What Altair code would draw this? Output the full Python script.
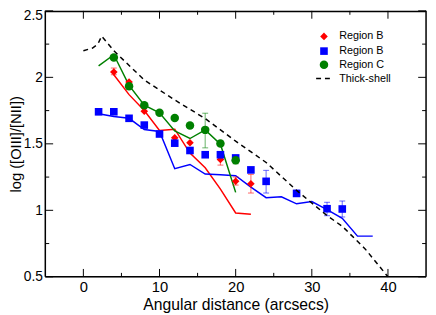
import altair as alt
import pandas as pd

# ---- data ----
red_x = [4, 6, 8, 12, 14, 18, 20, 22]
red_y = [2.04, 1.965, 1.746, 1.545, 1.508, 1.382, 1.219, 1.20]

red_line_x = [4, 6, 8, 10, 12, 14, 16, 18, 20, 22]
red_line_y = [2.02, 1.87, 1.75, 1.60, 1.61, 1.43, 1.32, 1.16, 0.98, 0.97]

blue_x = [2, 4, 6, 8, 10, 12, 14, 16, 18, 20, 22, 24, 28, 32, 34]
blue_y = [1.741, 1.741, 1.692, 1.641, 1.574, 1.505, 1.45, 1.418, 1.418, 1.394,
          1.304, 1.218, 1.127, 1.012, 1.01]

blue_line_x = [2, 4, 6, 8, 10, 12, 14, 16, 18, 20, 22, 24, 26, 28, 30, 32, 34, 36, 38]
blue_line_y = [1.727, 1.705, 1.692, 1.608, 1.593, 1.313, 1.345, 1.273, 1.267, 1.26,
               1.175, 1.095, 1.102, 1.049, 1.066, 1.005, 0.94, 0.806, 0.806]

green_x = [4, 6, 8, 10, 12, 14, 16, 18, 20]
green_y = [2.15, 1.933, 1.79, 1.733, 1.695, 1.637, 1.605, 1.503, 1.377]

green_line_x = [2, 4, 6, 8, 10, 12, 14, 16, 18, 20]
green_line_y = [2.086, 2.17, 1.94, 1.79, 1.733, 1.597, 1.54, 1.605, 1.497, 1.135]

shell_x = [0, 1.2, 1.9, 2.4, 4, 8, 12, 16, 20, 24, 28, 32, 34, 37, 40]
shell_y = [2.20, 2.22, 2.25, 2.31, 2.20, 1.98, 1.83, 1.69, 1.52, 1.36, 1.15,
           0.96, 0.88, 0.71, 0.50]

# error bars (x, low, high)
red_err_x = [4, 18, 20, 22]
red_err_lo = [2.02, 1.34, 1.19, 1.13]
red_err_hi = [2.07, 1.42, 1.25, 1.27]

blue_err_x = [2, 24, 28, 32, 34]
blue_err_lo = [1.72, 1.13, 1.105, 0.96, 0.95]
blue_err_hi = [1.76, 1.30, 1.15, 1.06, 1.07]

green_err_x = [16, 20]
green_err_lo = [1.47, 1.35]
green_err_hi = [1.73, 1.40]

x_major = [0, 10, 20, 30, 40]
x_minor = [5, 15, 25, 35]
y_major = [0.5, 1.0, 1.5, 2.0, 2.5]
y_minor = [0.75, 1.25, 1.75, 2.25]

legend_labels = ["Region B", "Region B", "Region C", "Thick-shell"]

# ---- chart ----
W, H = 388, 271
FONT = "Liberation Sans"
RED, BLUE, GREEN = "#ff0000", "#0000ff", "#008000"

xs = alt.Scale(domain=[-5, 45], nice=False, zero=False)
ys = alt.Scale(domain=[0.5, 2.5], nice=False, zero=False)

x_axis = alt.Axis(values=x_major, ticks=False, domain=False, grid=False,
                  labelFont=FONT, labelFontSize=15, labelColor="black",
                  labelPadding=3, titleFont=FONT, titleFontSize=16,
                  titleFontWeight="normal", titleColor="black",
                  titlePadding=2, labelFlush=False)
y_axis = alt.Axis(values=y_major, format=".1~f", ticks=False, domain=False,
                  grid=False, labelFont=FONT, labelFontSize=14,
                  labelColor="black", labelPadding=3, labelAlign="right",
                  labelOffset={"condition": {"test": "datum.value == 2.5", "value": 5},
                               "value": 0},
                  titleFont=FONT, titleFontSize=15, titleFontWeight="normal",
                  titleColor="black", titleBaseline="middle", titleAngle=270,
                  titleX=-30, titleY=H / 2, titleAnchor="middle",
                  labelFlush=False)
X_TITLE = "Angular distance (arcsecs)"
Y_TITLE = "log ([OIII]/[NII])"


def X(field="x"):
    return alt.X(f"{field}:Q", scale=xs, axis=x_axis, title=X_TITLE)


def Y(field="y"):
    return alt.Y(f"{field}:Q", scale=ys, axis=y_axis, title=Y_TITLE)


def df(x, y):
    return pd.DataFrame({"x": x, "y": y})


layers = []


def line(x, y, color, dash=None, sw=1.5):
    kw = dict(color=color, strokeWidth=sw)
    if dash:
        kw["strokeDash"] = dash
    return alt.Chart(df(x, y)).mark_line(**kw).encode(x=X(), y=Y(), order="x:Q")


def errbars(x, lo, hi, color):
    d = pd.DataFrame({"x": x, "lo": lo, "hi": hi})
    base = alt.Chart(d)
    r = base.mark_rule(color=color, opacity=0.5, strokeWidth=1.2).encode(
        x=X(), y=Y("lo"), y2="hi:Q")
    t1 = base.mark_tick(color=color, opacity=0.5, thickness=1.2, size=6,
                        orient="horizontal").encode(x=X(), y=Y("lo"))
    t2 = base.mark_tick(color=color, opacity=0.5, thickness=1.2, size=6,
                        orient="horizontal").encode(x=X(), y=Y("hi"))
    return [r, t1, t2]


def points(x, y, color, shape, size):
    return alt.Chart(df(x, y)).mark_point(
        shape=shape, filled=True, color=color, opacity=1, size=size, strokeWidth=0
    ).encode(x=X(), y=Y())


layers += [line(red_line_x, red_line_y, RED),
           line(blue_line_x, blue_line_y, BLUE),
           line(green_line_x, green_line_y, GREEN)]
layers += errbars(red_err_x, red_err_lo, red_err_hi, RED)
layers += errbars(blue_err_x, blue_err_lo, blue_err_hi, BLUE)
layers += errbars(green_err_x, green_err_lo, green_err_hi, GREEN)
layers += [points(red_x, red_y, RED, "diamond", 60),
           points(blue_x, blue_y, BLUE, "square", 60),
           points(green_x, green_y, GREEN, "circle", 75)]
layers.append(line(shell_x, shell_y, "black", dash=[5, 4]))


# inward ticks on all four sides
def xticks(vals, length):
    d = pd.DataFrame({"x": vals})
    b = alt.Chart(d).mark_rule(color="black", strokeWidth=1)
    return [b.encode(x=X(), y=alt.value(H), y2=alt.value(H - length)),
            b.encode(x=X(), y=alt.value(0), y2=alt.value(length))]


def yticks(vals, length):
    d = pd.DataFrame({"y": vals})
    b = alt.Chart(d).mark_rule(color="black", strokeWidth=1)
    return [b.encode(y=Y(), x=alt.value(0), x2=alt.value(length)),
            b.encode(y=Y(), x=alt.value(W), x2=alt.value(W - length))]


layers += xticks(x_major, 8) + xticks(x_minor, 4)
layers += yticks(y_major, 8) + yticks(y_minor, 4)

# frame
frame_df = pd.DataFrame({"k": [0]})
fb = alt.Chart(frame_df).mark_rule(color="black", strokeWidth=1.5)
layers += [
    fb.encode(x=alt.value(0), x2=alt.value(W), y=alt.value(H)),
    fb.encode(x=alt.value(0), x2=alt.value(W), y=alt.value(0.75)),
    fb.encode(x=alt.value(0), y=alt.value(0), y2=alt.value(H)),
    fb.encode(x=alt.value(W), y=alt.value(0), y2=alt.value(H)),
]

# manual legend (upper right)
leg_x_sym = 284
leg_x_txt = 299.5
leg_rows = [26, 41, 55, 69]
leg_df = pd.DataFrame({"label": legend_labels})
sym_specs = [(RED, "diamond", 60), (BLUE, "square", 60), (GREEN, "circle", 75)]
for i, (c, s, sz) in enumerate(sym_specs):
    layers.append(alt.Chart(leg_df.iloc[[i]]).mark_point(
        shape=s, filled=True, color=c, opacity=1, size=sz, strokeWidth=0
    ).encode(x=alt.value(leg_x_sym), y=alt.value(leg_rows[i])))
layers.append(alt.Chart(leg_df.iloc[[3]]).mark_rule(
    color="black", strokeWidth=1.5, strokeDash=[5, 4]
).encode(x=alt.value(leg_x_sym - 8), x2=alt.value(leg_x_sym + 9),
         y=alt.value(leg_rows[3])))
for i in range(4):
    layers.append(alt.Chart(leg_df.iloc[[i]]).mark_text(
        align="left", baseline="middle", font=FONT, fontSize=11, color="black"
    ).encode(x=alt.value(leg_x_txt), y=alt.value(leg_rows[i]), text="label:N"))

chart = alt.layer(*layers).properties(
    width=W, height=H,
    autosize=alt.AutoSizeParams(type="none"),
    padding={"left": 38, "top": 0, "right": 2, "bottom": 36},
).configure_view(stroke=None).configure(background="white")

chart.save("out.html", embed_options={"renderer": "svg", "actions": False})
